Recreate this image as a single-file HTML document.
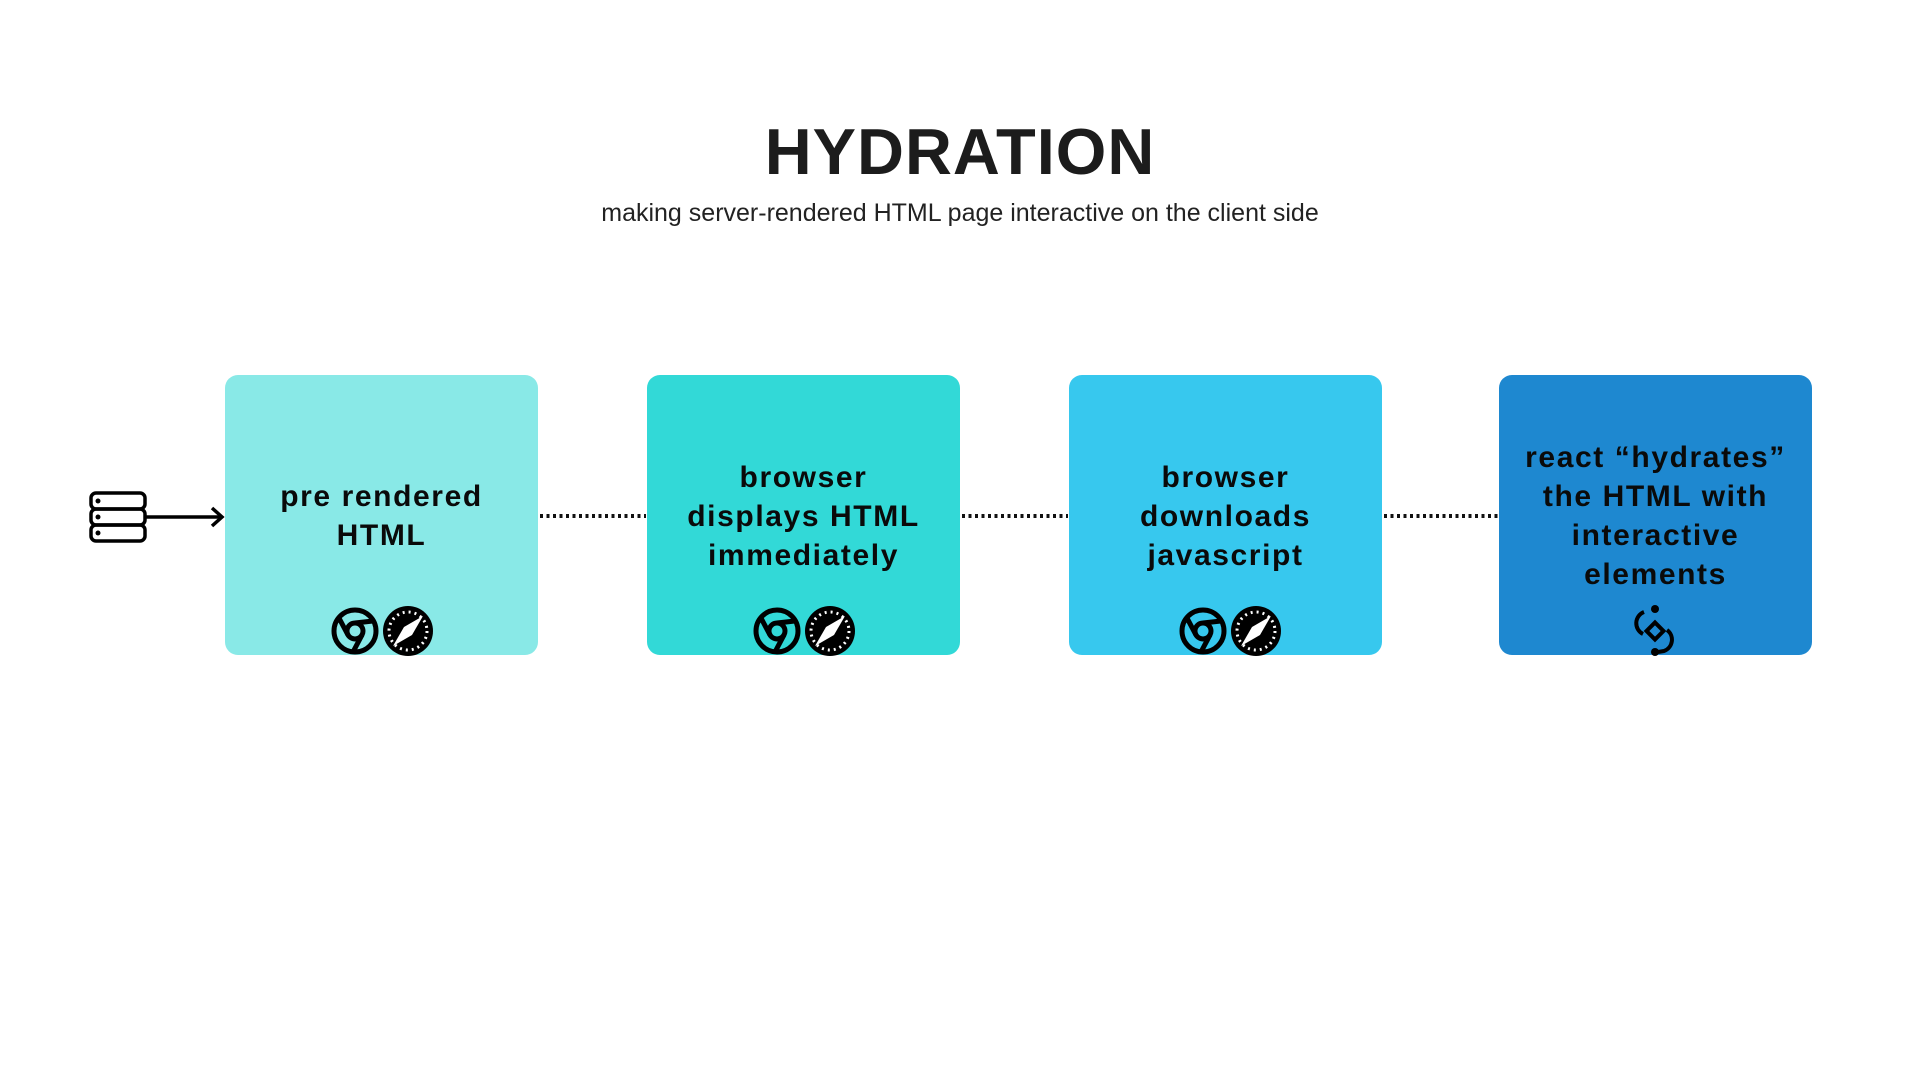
<!DOCTYPE html>
<html><head><meta charset="utf-8"><style>
html,body{margin:0;padding:0;background:#fff;}
body{width:1920px;height:1080px;position:relative;overflow:hidden;font-family:"Liberation Sans",sans-serif;color:#111;}
.title{position:absolute;left:0;width:1920px;top:114px;text-align:center;font-size:65px;font-weight:bold;color:#1c1c1c;letter-spacing:1px;}
.sub{position:absolute;left:0;width:1920px;top:199px;text-align:center;font-size:25px;color:#222;}
.box{position:absolute;top:375px;width:313px;height:280px;border-radius:13px;}
.txt{position:absolute;left:0;width:100%;text-align:center;font-weight:bold;font-size:30px;line-height:39px;letter-spacing:1.6px;color:#0a0a0a;}
svg{position:absolute;left:0;top:0;}
</style></head><body>
<div class="title">HYDRATION</div>
<div class="sub">making server-rendered HTML page interactive on the client side</div>
<div class="box" style="left:225px;background:#89e9e7"><div class="txt" style="top:102px">pre rendered<br>HTML</div></div>
<div class="box" style="left:647px;background:#32d9d7"><div class="txt" style="top:83px">browser<br>displays HTML<br>immediately</div></div>
<div class="box" style="left:1069px;background:#37c8ee"><div class="txt" style="top:83px">browser<br>downloads<br>javascript</div></div>
<div class="box" style="left:1499px;background:#1e88d0"><div class="txt" style="top:63px">react “hydrates”<br>the HTML with<br>interactive<br>elements</div></div>
<svg width="1920" height="1080">
<defs>
<g id="ic">
  <circle cx="0" cy="0" r="21" fill="none" stroke="#000" stroke-width="5"/>
  <circle cx="0" cy="0" r="8" fill="none" stroke="#000" stroke-width="5"/>
  <path d="M0,-8 L18,-10 M-7,4 L-16,-13 M7,4 L-2,21" stroke="#000" stroke-width="5" fill="none"/>
  <circle cx="53" cy="0" r="25" fill="#000"/>
  <circle cx="53" cy="0" r="19" fill="none" stroke="#fff" stroke-width="3" stroke-dasharray="2 4"/>
  <path d="M68,-15 L57,4 L38,15 L49,-4 Z" fill="#fff"/>
</g>
</defs>
<use href="#ic" x="355" y="631"/>
<use href="#ic" x="777" y="631"/>
<use href="#ic" x="1203" y="631"/>
<g stroke="#111" stroke-width="4" stroke-dasharray="3 3.5">
<line x1="540" y1="516" x2="646" y2="516"/>
<line x1="962" y1="516" x2="1068" y2="516"/>
<line x1="1384" y1="516" x2="1498" y2="516"/>
</g>
<g fill="none" stroke="#000" stroke-width="3.5">
<rect x="91" y="493" width="54" height="16" rx="5"/>
<rect x="91" y="509" width="54" height="16" rx="5"/>
<rect x="91" y="525" width="54" height="16" rx="5"/>
<line x1="146" y1="517" x2="222" y2="517"/>
<path d="M212,508 L222,517 L212,526"/>
</g>
<circle cx="98" cy="501" r="2.5"/><circle cx="98" cy="517" r="2.5"/><circle cx="98" cy="533" r="2.5"/>
<g fill="none" stroke="#000" stroke-width="4">
<path d="M1644,612 A12,12 0 0 0 1643,634"/>
<path d="M1667,630 A12,12 0 0 1 1664,651 L1658,652"/>
<rect x="1649" y="625" width="12" height="12" transform="rotate(45 1655 631)"/>
</g>
<circle cx="1655" cy="609" r="4"/><circle cx="1655" cy="652" r="4"/>
</svg>
</body></html>
